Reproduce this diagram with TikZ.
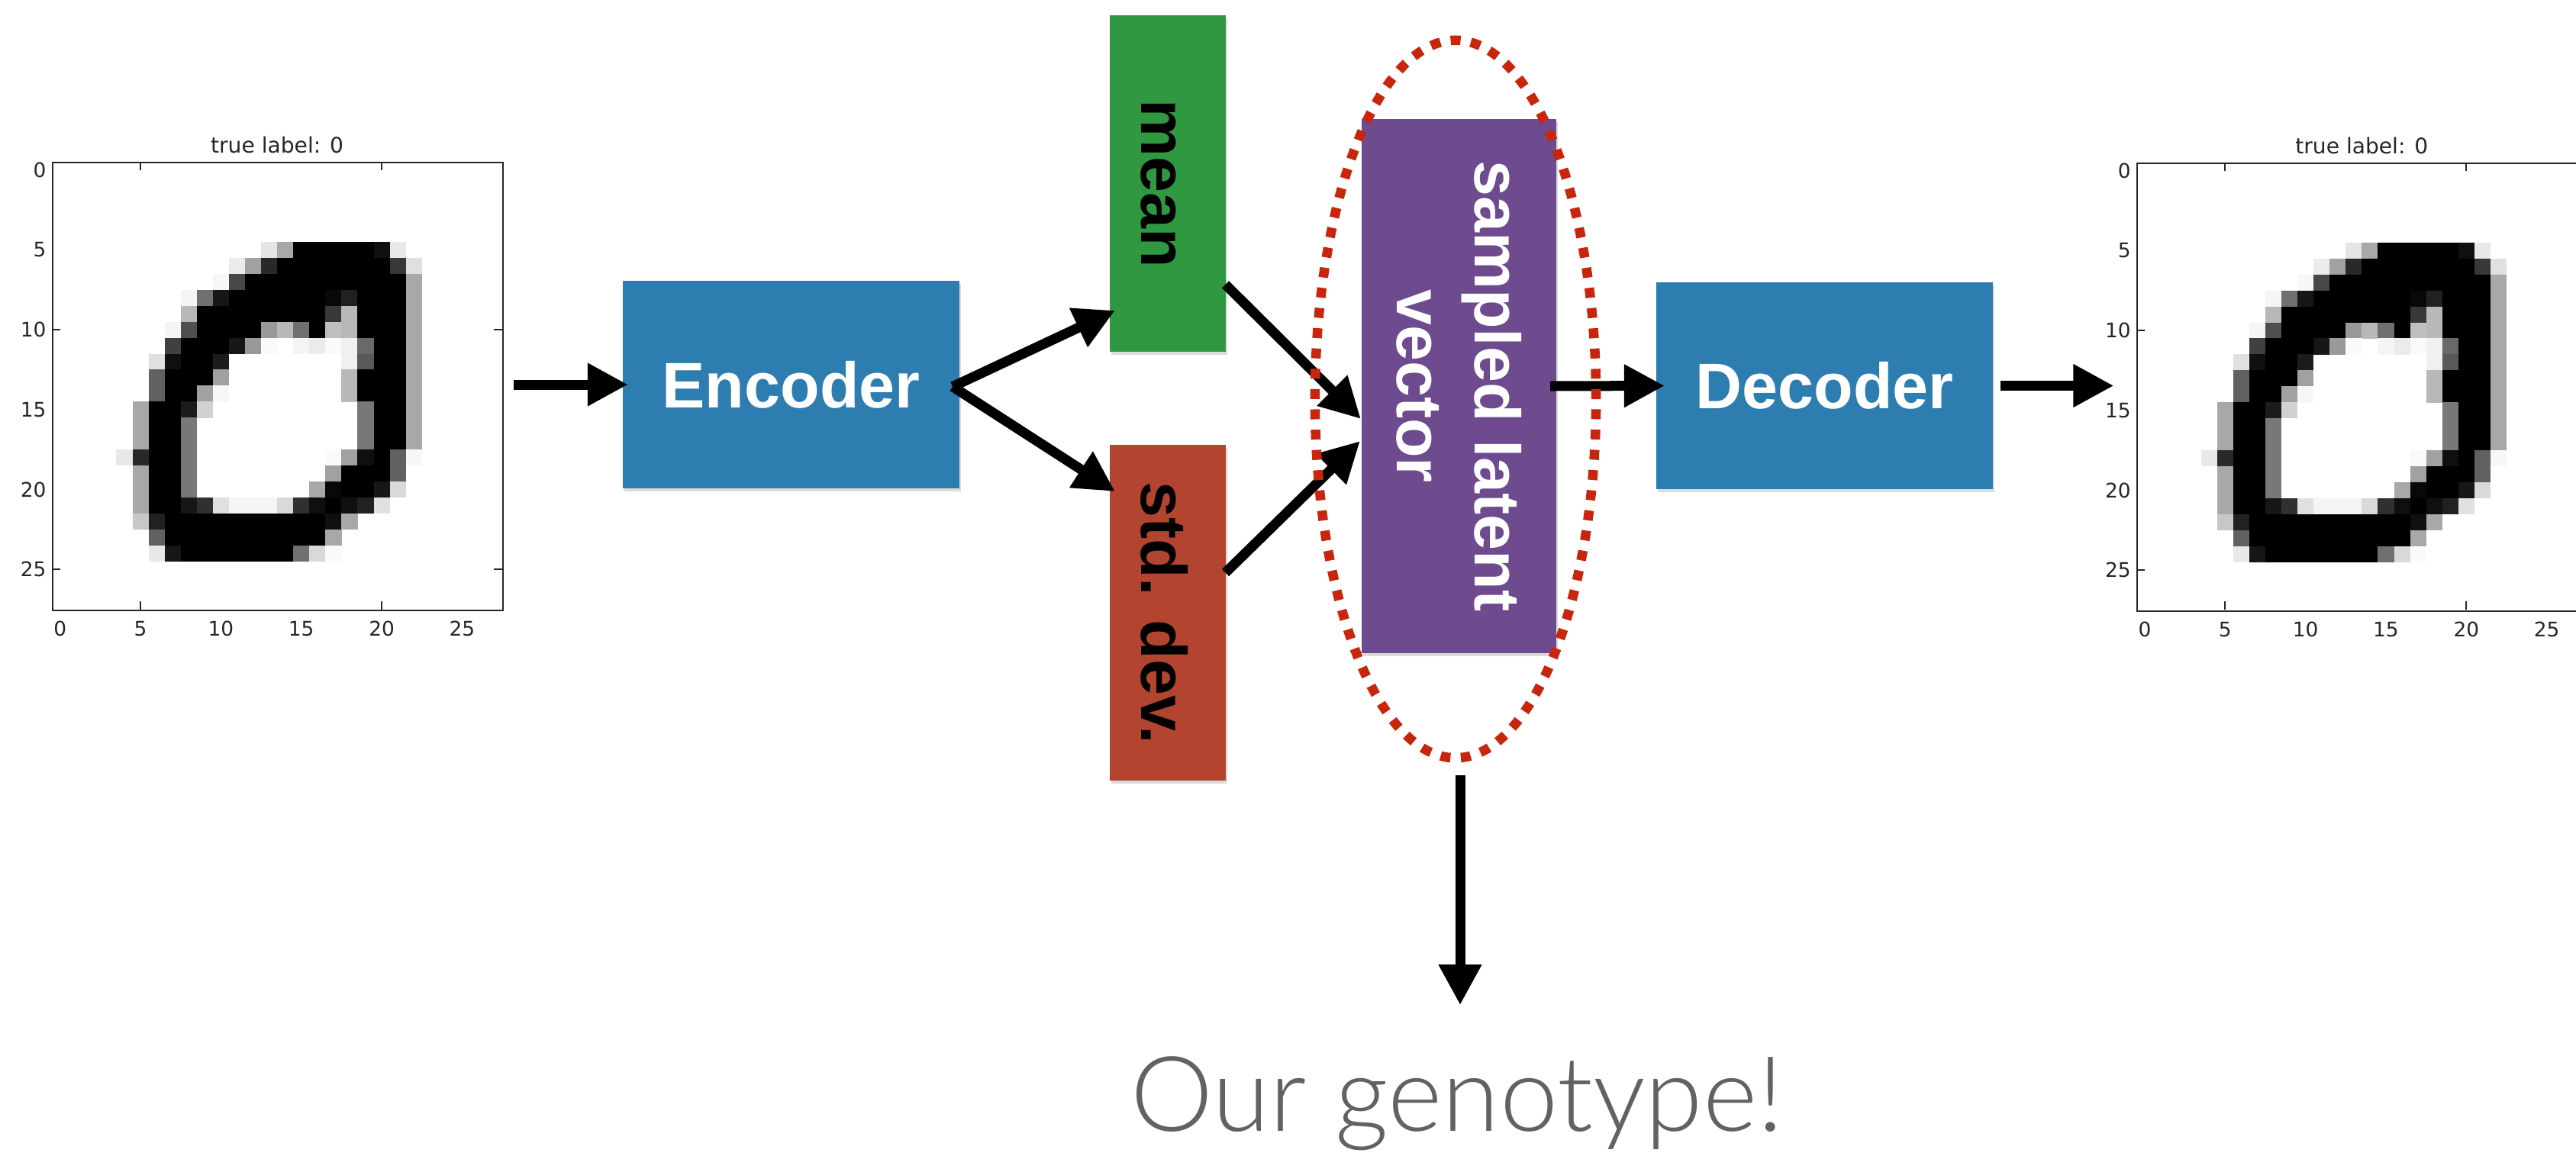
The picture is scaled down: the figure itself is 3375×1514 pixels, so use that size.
\documentclass[tikz,border=0pt]{standalone}
\usepackage{fontspec}
\setmainfont{Liberation Sans}
\newfontfamily\axfont{DejaVu Sans}
\newfontfamily\lightfont{Lato Light}
\usetikzlibrary{arrows.meta,calc,shadows}

\definecolor{encblue}{RGB}{46,125,177}
\definecolor{meangreen}{RGB}{48,152,64}
\definecolor{stdred}{RGB}{178,68,48}
\definecolor{latpurple}{RGB}{110,74,142}
\definecolor{dotred}{RGB}{200,38,12}
\definecolor{genogray}{RGB}{98,98,98}

% 28x28 handwritten zero as runs: row / first column / last column / darkness in percent
\newcommand\drawdigit[1]{%
 \begin{scope}[shift={(#1.north west)}]
  \foreach \r/\a/\b/\k in {
   5/13/13/10, 5/14/14/34, 5/15/19/100, 5/20/20/94, 5/21/21/9,
   6/11/11/8, 6/12/12/37, 6/13/13/84, 6/14/20/100, 6/21/21/78, 6/22/22/12,
   7/10/10/3, 7/11/11/72, 7/12/21/100, 7/22/22/34,
   8/8/8/4, 8/9/9/56, 8/10/10/91, 8/11/16/100, 8/17/17/97, 8/18/18/87, 8/19/21/100, 8/22/22/34,
   9/8/8/28, 9/9/16/100, 9/17/17/78, 9/18/18/28, 9/19/21/100, 9/22/22/34,
   10/7/7/4, 10/8/8/69, 10/9/12/100, 10/13/13/40, 10/14/14/28, 10/15/15/56, 10/16/16/100,
   10/17/17/25, 10/18/18/28, 10/19/21/100, 10/22/22/34,
   11/7/7/75, 11/8/10/100, 11/11/11/91, 11/12/12/40, 11/13/13/2, 11/15/15/4, 11/16/16/8,
   11/17/17/2, 11/18/18/6, 11/19/19/59, 11/20/21/100, 11/22/22/34,
   12/6/6/12, 12/7/7/94, 12/8/9/100, 12/10/10/89, 12/18/18/6, 12/19/19/65, 12/20/21/100, 12/22/22/34,
   13/6/6/62, 13/7/9/100, 13/10/10/37, 13/18/18/28, 13/19/21/100, 13/22/22/34,
   14/6/6/62, 14/7/8/100, 14/9/9/37, 14/10/10/3, 14/18/18/28, 14/19/21/100, 14/22/22/34,
   15/5/5/34, 15/6/7/100, 15/8/8/89, 15/9/9/18, 15/19/19/53, 15/20/21/100, 15/22/22/34,
   16/5/5/34, 16/6/7/100, 16/8/8/53, 16/19/19/53, 16/20/21/100, 16/22/22/34,
   17/5/5/34, 17/6/7/100, 17/8/8/53, 17/19/19/53, 17/20/21/100, 17/22/22/34,
   18/4/4/9, 18/5/5/84, 18/6/7/100, 18/8/8/53, 18/17/17/2, 18/18/18/37, 18/19/19/94,
   18/20/20/100, 18/21/21/62, 18/22/22/3,
   19/5/5/34, 19/6/7/100, 19/8/8/53, 19/17/17/37, 19/18/20/100, 19/21/21/62,
   20/5/5/34, 20/6/7/100, 20/8/8/53, 20/16/16/34, 20/17/17/97, 20/18/19/100, 20/20/20/91, 20/21/21/15,
   21/5/5/34, 21/6/7/100, 21/8/8/91, 21/9/9/81, 21/10/10/12, 21/11/13/4, 21/14/14/15, 21/15/15/81,
   21/16/16/94, 21/17/17/100, 21/18/18/94, 21/19/19/87, 21/20/20/12,
   22/5/5/22, 22/6/6/87, 22/7/16/100, 22/17/17/94, 22/18/18/34,
   23/6/6/62, 23/7/16/100, 23/17/17/34,
   24/6/6/9, 24/7/7/91, 24/8/14/100, 24/15/15/56, 24/16/16/15, 24/17/17/2%
  }{\fill[black!\k] ({\a*21.065},{\r*20.94}) rectangle ({(\b+1)*21.065+0.3},{(\r+1)*20.94+0.3});}
 \end{scope}}

% tick marks, tick labels and title of one plot panel
\newcommand\drawaxes[1]{%
 \begin{scope}[shift={(#1.north west)}]
  \foreach \t in {5,20}{
   \draw[axtick] ({(\t+0.5)*21.065},0) -- ++(0,11);
   \draw[axtick] ({(\t+0.5)*21.065},586.3) -- ++(0,-11);
  }
  \foreach \t in {10,25}{
   \draw[axtick] (0,{(\t+0.5)*20.94}) -- ++(11,0);
   \draw[axtick] (589.8,{(\t+0.5)*20.94}) -- ++(-11,0);
  }
  \foreach \t in {0,5,...,25}{
   \node[ticklab, anchor=base] (#1-x\t) at ({(\t+0.5)*21.065},621) {\t};
   \node[ticklab, anchor=east] (#1-y\t) at (-7,{(\t+0.5)*20.94}) {\t};
  }
  \node[font=\axfont\fontsize{8}{10}\selectfont, text=black!85, anchor=base, inner sep=0pt] (#1-title) at (294.9,-12) {true label: 0};
 \end{scope}}

\begin{document}
\begin{tikzpicture}[x=0.01cm, y=-0.01cm,
  box/.style={rectangle, inner sep=0pt, outer sep=0pt,
    font=\bfseries\fontsize{24}{29}\selectfont,
    drop shadow={shadow xshift=0.02cm, shadow yshift=-0.04cm, opacity=0.14, fill=black}},
  plotframe/.style={draw=black!85, line width=0.02cm, rectangle, inner sep=0pt,
    minimum width=5.898cm, minimum height=5.863cm},
  arr/.style={line width=0.13cm, -{Triangle[length=0.53cm,width=0.53cm]}},
  ring/.style={draw=dotred, line width=0.125cm, dash pattern=on 0.13cm off 0.136cm},
  axtick/.style={line width=0.02cm, draw=black!85},
  ticklab/.style={font=\axfont\fontsize{7.5}{9}\selectfont, text=black!85, inner sep=0pt},
]
\useasboundingbox (0,0) rectangle (3375,1514);
\clip (0,0) rectangle (3375,1514);

% input and reconstructed digit panels
\node[plotframe] (imgL) at (364.3,506.55) {};
\node[plotframe] (imgR) at (3095.5,507.45) {};
\drawdigit{imgL}
\drawdigit{imgR}
\drawaxes{imgL}
\drawaxes{imgR}

% network blocks
\node[box, fill=encblue, text=white, minimum width=4.41cm, minimum height=2.72cm] (enc) at (1036.5,504) {Encoder};
\node[box, fill=encblue, text=white, minimum width=4.41cm, minimum height=2.71cm] (dec) at (2390.5,505.5) {Decoder};
\node[box, fill=meangreen, rotate=-90, minimum width=4.41cm, minimum height=1.515cm,
      text height=0.69cm, text depth=0pt] (mean) at (1529.75,240.5) {mean};
\node[box, fill=stdred, rotate=-90, minimum width=4.395cm, minimum height=1.515cm,
      text height=0.69cm, text depth=0pt] (std) at (1529.75,803.25) {std. dev.};
\node[box, fill=latpurple, text=white, rotate=-90, align=center,
      minimum width=7.0cm, minimum height=2.545cm] (lat) at (1911.25,506) {sampled latent\\vector};

\node[font=\lightfont\fontsize{38.9}{46}\selectfont, text=genogray, anchor=base, inner sep=0pt] (geno) at (1909,1482) {Our genotype!};

% connectors
\draw[arr] ($(imgL.east |- enc.west)+(13,0)$) -- ($(enc.west)+(7,0)$);
\draw[arr] ($(enc.east)+(-9,2.7)$) -- ($(mean.south west)!0.877!(mean.south east)+(7,0)$);
\draw[arr] ($(enc.east)+(-9,2.7)$) -- ($(std.south west)!0.138!(std.south east)+(7,0)$);
\draw[arr] ($(mean.north west)!0.8!(mean.north east)$) -- ($(lat.south)+(-1,43)$);
\draw[arr] ($(std.north west)!0.38!(std.north east)$) -- ($(lat.south)+(-2,72)$);
\draw[arr] ($(lat.north)+(-7.5,0)$) -- ($(dec.west)+(11,0)$);
\draw[arr] ($(dec.east)+(10,0)$) -- ($(imgR.west |- dec.east)+(-30,0)$);
\draw[arr] ($(lat.east)+(1.75,160)$) -- ($(lat.east)+(1.75,461)$);

% dotted outline around the latent vector
\draw[ring] (1907,523) ellipse [x radius=1.84cm, y radius=4.70cm];
\end{tikzpicture}
\end{document}
